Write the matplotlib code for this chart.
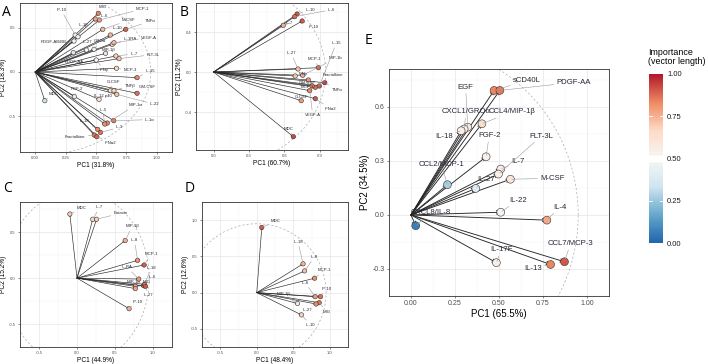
import matplotlib.pyplot as plt
import numpy as np
from matplotlib.colors import Normalize, LinearSegmentedColormap

plt.rcParams['font.family'] = ['Liberation Sans', 'DejaVu Sans']

# ---- panel A (loadings) ----
a_names = ['MIG', 'IL-6', 'MCP-1', 'M-CSF', 'IL-10', 'TNFα', 'IL-1RA', 'VEGF-A',
           'GROα', 'IL-27', 'PDGF-AB/BB', 'IP-10', 'IL-1β', 'MIP-1β', 'IL-7',
           'FLT-3L', 'PDGF-AA', 'IFNγ', 'MCP-3', 'IL-15', 'G-CSF', 'TNFβ',
           'GM-CSF', 'FGF-2', 'IL-12 p40', 'IL-22', 'MDC', 'MIP-1α', 'IL-5',
           'IL-1α', 'IL-18', 'IL-3', 'Fractalkine', 'IFNα2']
a_pc1 = [0.519, 0.495, 0.528, 0.556, 0.618, 0.745, 0.634, 0.648, 0.484, 0.421,
         0.319, 0.329, 0.352, 0.579, 0.664, 0.690, 0.313, 0.502, 0.669, 0.838,
         0.618, 0.648, 0.838, 0.322, 0.525, 0.671, 0.079, 0.593, 0.572, 0.646,
         0.514, 0.537, 0.486, 0.507]
a_pc2 = [0.667, 0.602, 0.591, 0.485, 0.420, 0.485, 0.314, 0.333, 0.258, 0.250,
         0.352, 0.420, 0.400, 0.212, 0.182, 0.152, 0.220, 0.136, 0.042, -0.064,
         -0.212, -0.212, -0.242, -0.280, -0.311, -0.254, -0.326, -0.580, -0.591,
         -0.553, -0.652, -0.686, -0.716, -0.735]

# ---- panel B ----
b_names = ['IL-10', 'IL-6', 'IL-7', 'IP-10', 'IL-27', 'MCP-1', 'MIP-1b', 'IFNγ',
           'IL-15', 'TNFα', 'Fractalkine', 'GM-CSF', 'MCP-3', 'VEGF-A', 'IFNα2',
           'G-CSF', 'MDC']
b_pc1 = [0.708, 0.687, 0.591, 0.751, 0.716, 0.889, 0.756, 0.692, 0.897, 0.943,
         0.863, 0.804, 0.836, 0.815, 0.863, 0.743, 0.676]
b_pc2 = [0.580, 0.553, 0.467, 0.510, 0.030, 0.043, -0.033, -0.040, -0.140, -0.107,
         -0.153, -0.080, -0.140, -0.187, -0.267, -0.287, -0.647]

# ---- panel C ----
c_names = ['MDC', 'IL-7', 'Eotaxin', 'MIP-1β', 'IL-8', 'MCP-1', 'IL-RA', 'IL-18',
           'IL-6', 'MIP-1α', 'MIG', 'IL-27', 'IP-10']
c_pc1 = [-0.094, 0.207, 0.257, 0.634, 0.797, 0.884, 0.812, 0.877, 0.888, 0.768,
         0.768, 0.902, 0.685]
c_pc2 = [0.698, 0.641, 0.641, 0.410, 0.194, 0.143, -0.010, -0.083, -0.067, -0.089,
         -0.114, -0.090, -0.333]

# ---- panel D ----
d_names = ['MDC', 'IL-18', 'IL-8', 'MCP-1', 'IL-6', 'IP-10', 'MIG', 'IL-27',
           'MIP-1β', 'IL-10']
d_pc1 = [0.069, 0.634, 0.656, 0.793, 0.800, 0.873, 0.855, 0.812, 0.558, 0.612]
d_pc2 = [0.899, 0.397, 0.300, 0.199, -0.056, -0.056, -0.139, -0.157, -0.150, -0.307]

# ---- panel E ----
e_names = ['sCD40L', 'PDGF-AA', 'EGF', 'CXCL1/GROα', 'IL-18', 'CCL4/MIP-1β',
           'FGF-2', 'CCL2/MCP-1', 'IL-7', 'FLT-3L', 'IL-27', 'M-CSF', 'IL-22',
           'IL-4', 'CCL7/MCP-3', 'IL-13', 'IL-17F', 'CXCL8/IL-8']
e_pc1 = [0.472, 0.505, 0.322, 0.302, 0.285, 0.403, 0.427, 0.207, 0.510, 0.497,
         0.368, 0.565, 0.510, 0.772, 0.872, 0.793, 0.485, 0.027]
e_pc2 = [0.691, 0.691, 0.487, 0.477, 0.467, 0.506, 0.323, 0.168, 0.255, 0.227,
         0.147, 0.198, 0.015, -0.029, -0.260, -0.275, -0.265, -0.060]

# label offsets (pixels) for the repelled labels
a_off = [(4, 6), (9, 3), (43, 11), (26, 9), (7, 7), (24, 8), (18, 5), (35, 5),
         (6, 8), (1, 8), (-20, -1), (-14, 25), (5, 12), (3, 3), (18, 2), (34, 4),
         (1, -9), (8, -10), (14, -2), (13, 7), (3, 9), (16, 5), (10, 6), (2, 8),
         (4, 3), (38, -10), (9, 7), (28, 18), (-2, 14), (36, 1), (-13, 8), (19, 5),
         (-19, -2), (14, -6)]
b_off = [(13, 4), (37, 7), (6, 2), (11, -6), (-7, 16), (-4, 9), (33, 17), (8, 2),
         (17, 43), (12, -7), (18, 12), (-1, -3), (-5, -1), (3, -24), (15, -10),
         (0, 4), (-5, 8)]
c_off = [(12, 6), (7, 12), (24, 6), (7, 14), (-3, 20), (7, 11), (-12, 12), (8, 18),
         (8, 7), (-2, 4), (11, 7), (3, -9), (9, 7)]
d_off = [(14, 6), (-5, 22), (10, 14), (10, 8), (-10, 14), (6, 8), (8, -9), (-9, -6),
         (-14, 9), (9, -10)]
e_off = [(33, 10), (74, 8), (-2, 40), (2, 17), (-17, -6), (30, 12), (3, 21), (-6, 20),
         (17, 7), (43, 38), (10, 9), (42, 1), (17, 12), (13, 13), (6, 18), (-18, -4),
         (5, 13), (15, 13)]

W, H = 708, 364
fig = plt.figure(figsize=(W / 100, H / 100), dpi=100)
cmap = LinearSegmentedColormap.from_list(
    'imp', ['#2166AC', '#67A9CF', '#D1E5F0', '#F7F7F7', '#FDDBC7', '#EF8A62', '#B2182B'])
norm = Normalize(0, 1)


def biplot(box, names, pc1, pc2, offs, xlim, ylim, xt, yt, xfmt, yfmt,
           xlab, ylab, small=True):
    l, t, r, b = box
    ax = fig.add_axes([l / W, 1 - b / H, (r - l) / W, (b - t) / H])
    ax.set_xlim(xlim)
    ax.set_ylim(ylim)
    fs_tick, fs_title, fs_lab = (3, 4.7, 3.1) if small else (5, 7, 5.6)
    lw, head, ms = (0.45, 3, 10) if small else (0.65, 6, 32)
    ax.set_xticks(xt)
    ax.set_xticklabels([xfmt.format(v) for v in xt])
    ax.set_yticks(yt)
    ax.set_yticklabels([yfmt.format(v) for v in yt])
    dx = xt[1] - xt[0]
    dy = yt[1] - yt[0]
    ax.set_xticks(np.arange(xt[0] - dx / 2, xt[-1] + dx, dx), minor=True)
    ax.set_yticks(np.arange(yt[0] - dy / 2, yt[-1] + dy, dy), minor=True)
    ax.tick_params(which='major', labelsize=fs_tick, length=1.5, width=0.4,
                   pad=1.5, colors='#333333', labelcolor='#4d4d4d')
    ax.tick_params(which='minor', length=0)
    ax.grid(which='major', color='#e6e6e6', lw=0.5)
    ax.grid(which='minor', color='#f2f2f2', lw=0.3)
    ax.set_axisbelow(True)
    for s in ax.spines.values():
        s.set_color('#333333')
        s.set_linewidth(0.6)
    ax.set_xlabel(xlab, fontsize=fs_title, labelpad=1.5)
    ax.set_ylabel(ylab, fontsize=fs_title, labelpad=1.5)

    # dashed circle
    th = np.linspace(0, 2 * np.pi, 300)
    ax.plot(0.95 * np.cos(th), 0.95 * np.sin(th), ls=(0, (3, 3)), color='#aaaaaa',
            lw=0.5, zorder=1)

    pc1 = np.asarray(pc1)
    pc2 = np.asarray(pc2)
    length = np.hypot(pc1, pc2)
    for x, y in zip(pc1, pc2):
        ax.annotate('', xy=(x, y), xytext=(0, 0),
                    arrowprops=dict(arrowstyle='->', lw=lw, color='#262626',
                                    shrinkA=0, shrinkB=0, mutation_scale=head),
                    zorder=2)
    ax.scatter(pc1, pc2, s=ms, c=length, cmap=cmap, norm=norm,
               edgecolors='#333333', linewidths=0.4, zorder=4)
    for n, x, y, (ox, oy) in zip(names, pc1, pc2, offs):
        ax.annotate(n, xy=(x, y), xytext=(ox, oy), textcoords='offset pixels',
                    ha='center', va='center', fontsize=fs_lab, color='#262636',
                    arrowprops=dict(arrowstyle='-', color='#9a9a9a', lw=0.4,
                                    shrinkA=0, shrinkB=1),
                    zorder=5)
    return ax


biplot((20, 3, 172, 152), a_names, a_pc1, a_pc2, a_off, (-0.042, 1.014), (-0.909, 0.784),
       [0, 0.25, 0.5, 0.75, 1.0], [-0.5, 0, 0.5], '{:.2f}', '{:.1f}',
       'PC1 (31.8%)', 'PC2 (18.3%)')
biplot((196, 3, 348, 150), b_names, b_pc1, b_pc2, b_off, (-0.076, 1.14), (-0.78, 0.69),
       [0, 0.3, 0.6, 0.9], [-0.4, 0, 0.4], '{:.1f}', '{:.1f}',
       'PC1 (60.7%)', 'PC2 (11.2%)')
biplot((20, 202, 172, 347), c_names, c_pc1, c_pc2, c_off, (-0.554, 1.098), (-0.552, 0.829),
       [-0.5, 0, 0.5, 1.0], [-0.5, 0, 0.5], '{:.1f}', '{:.1f}',
       'PC1 (44.9%)', 'PC2 (15.2%)')
biplot((202, 202, 348, 347), d_names, d_pc1, d_pc2, d_off, (-0.554, 1.033), (-0.573, 1.056),
       [-0.5, 0, 0.5, 1.0], [-0.5, 0, 0.5, 1.0], '{:.1f}', '{:.1f}',
       'PC1 (48.4%)', 'PC2 (12.6%)')
biplot((389, 69, 609, 296), e_names, e_pc1, e_pc2, e_off, (-0.045, 1.055), (-0.354, 0.81),
       [0, 0.25, 0.5, 0.75, 1.0], [-0.3, 0, 0.3, 0.6], '{:.2f}', '{:.1f}',
       'PC1 (65.5%)', 'PC2 (34.5%)', small=False)

# panel letters
for letter, (px, py) in zip('ABCDE', [(6, 13), (184, 12), (7, 188), (190, 188), (368, 40)]):
    fig.text(px / W, 1 - py / H, letter, fontsize=10, ha='center', va='center',
             family=['Open Sans', 'DejaVu Sans'])

# colour bar
cax = fig.add_axes([649 / W, 1 - 243 / H, 14 / W, 169 / H])
grad = np.linspace(0, 1, 400)
grad = np.where((grad > 0.478) & (grad < 0.518), np.nan, grad).reshape(-1, 1)
cm = cmap.copy()
cm.set_bad('white')
cax.imshow(grad, cmap=cm, norm=norm, aspect='auto', origin='lower', extent=[0, 1, 0, 1])
for v in [0.25, 0.75]:
    cax.plot([0, 0.2], [v, v], color='white', lw=0.6)
    cax.plot([0.8, 1], [v, v], color='white', lw=0.6)
cax.set_xlim(0, 1)
cax.set_ylim(0, 1)
cax.set_xticks([])
cax.yaxis.tick_right()
cax.set_yticks([0, 0.25, 0.5, 0.75, 1.0])
cax.set_yticklabels(['0.00', '0.25', '0.50', '0.75', '1.00'])
cax.tick_params(length=0, labelsize=5.5, pad=3, labelcolor='#1a1a1a')
for s in cax.spines.values():
    s.set_visible(False)
fig.text(648 / W, 1 - 48 / H, 'Importance\n(vector length)', fontsize=6.4,
         ha='left', va='top', linespacing=1.05)

fig.savefig('out.png', dpi=100)
